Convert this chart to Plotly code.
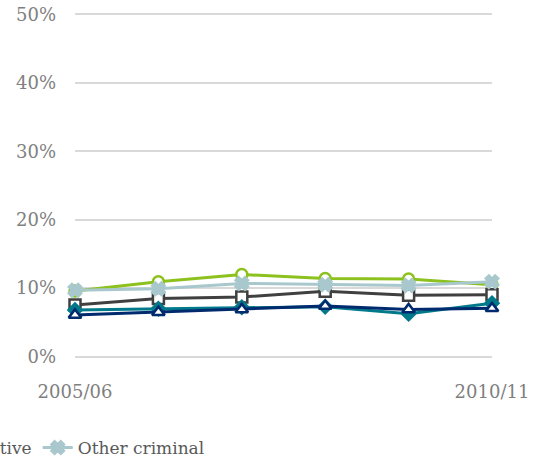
import plotly.graph_objects as go

years = ["2005/06", "2006/07", "2007/08", "2008/09", "2009/10", "2010/11"]
tick_labels = ["2005/06", "2010/11"]
y_ticks = [0.0, 0.1, 0.2, 0.3, 0.4, 0.5]
y_tick_text = ["0%", "10%", "20%", "30%", "40%", "50%"]

violent = [0.096, 0.1095, 0.120, 0.114, 0.1135, 0.105]
drug = [0.0755, 0.085, 0.087, 0.0955, 0.0895, 0.0905]
motoring = [0.068, 0.070, 0.072, 0.073, 0.0625, 0.078]
acquisitive = [0.061, 0.065, 0.069, 0.074, 0.069, 0.0705]
other_criminal = [0.097, 0.099, 0.107, 0.105, 0.104, 0.1095]

GREEN = "#8CC11E"
GRAY = "#404040"
TEAL = "#00798A"
NAVY = "#002A6E"
LIGHT = "#A8C8CD"

fig = go.Figure()

def add(name, y, color, symbol, size, fill, show):
    fig.add_trace(go.Scatter(
        x=years, y=y, name=name, mode="lines+markers",
        line=dict(color=color, width=3),
        marker=dict(symbol=symbol, size=size, color=fill,
                    line=dict(color=color, width=2.5)),
        cliponaxis=False, showlegend=show,
    ))

add("Violent", violent, GREEN, "circle", 11, "white", False)
add("Drug", drug, GRAY, "square", 11, "white", False)
add("Motoring", motoring, TEAL, "diamond", 10, TEAL, False)
add("Acquisitive", acquisitive, NAVY, "triangle-up", 11, "white", True)
add("Other criminal", other_criminal, LIGHT, "x", 11, LIGHT, True)

font_family = "DejaVu Serif"

fig.update_layout(
    width=548, height=463,
    margin=dict(l=75, r=56, t=13, b=105, autoexpand=False),
    paper_bgcolor="white", plot_bgcolor="white",
    font=dict(family=font_family, size=18, color="#808080"),
    xaxis=dict(
        type="category", range=[0, 5],
        tickmode="array", tickvals=tick_labels, ticktext=tick_labels,
        showgrid=False, showline=False, zeroline=False, ticks="",
        ticklabelstandoff=21,
        tickfont=dict(family=font_family, size=18, color="#7F7F7F"),
    ),
    yaxis=dict(
        range=[-0.002, 0.502],
        tickmode="array", tickvals=y_ticks, ticktext=y_tick_text,
        showgrid=True, gridcolor="#D9D9D9", gridwidth=1.5,
        zeroline=False, showline=False, ticks="",
        ticklabelstandoff=18, ticklabeloverflow="allow",
        tickfont=dict(family=font_family, size=18, color="#808080"),
    ),
    legend=dict(
        orientation="h", xref="paper", yref="paper",
        x=-0.428, xanchor="left", y=-0.261, yanchor="middle",
        font=dict(family=font_family, size=17, color="#595959"),
        bgcolor="rgba(0,0,0,0)", traceorder="normal",
    ),
)

fig.write_html("out.html", config={"displayModeBar": False},
               post_script="document.body.style.margin='0';")
